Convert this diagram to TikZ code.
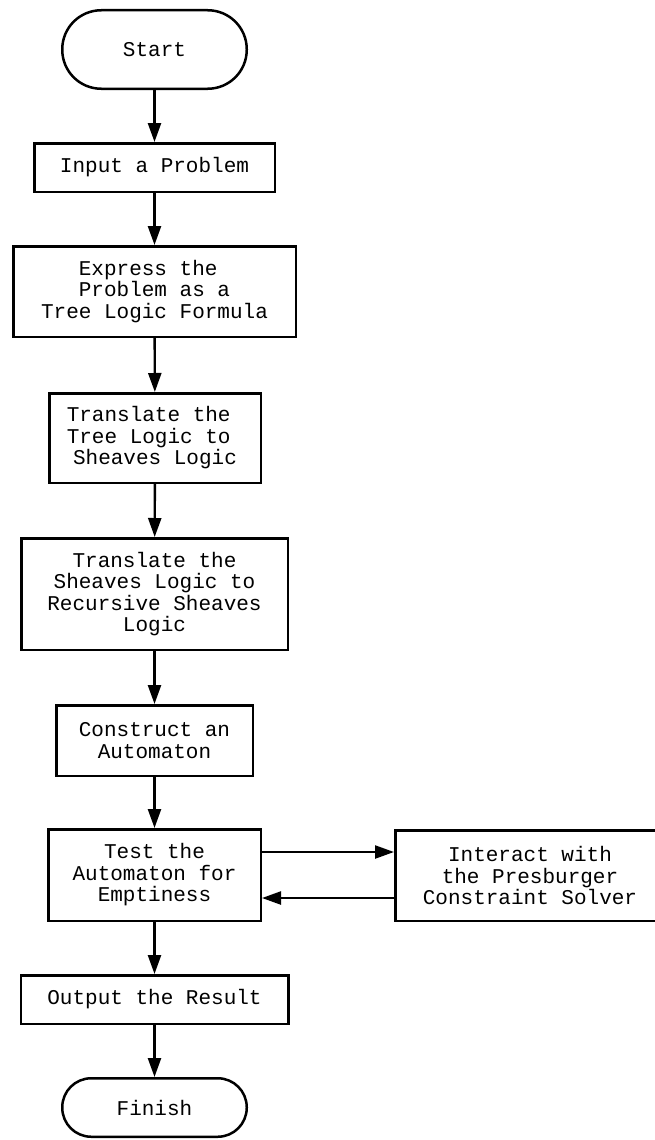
\documentclass[tikz,border=0pt]{standalone}
\usepackage{fontspec}
\setmonofont{Liberation Mono}
\usetikzlibrary{arrows.meta}
\begin{document}
\begin{tikzpicture}[x=1pt,y=-1pt,
  box/.style={draw, line width=2.5pt, align=center, inner sep=0pt,
    font=\ttfamily\fontsize{21}{21.5}\selectfont},
  term/.style={box, rounded corners=#1},
  arr/.style={line width=2.4pt, -{Triangle[length=19pt,width=13pt]}}]
\useasboundingbox (0,0) rectangle (655,1140);
\node[term=39pt, minimum width=184.5pt, minimum height=78.5pt] (start) at (154.5,49.5) {Start};
\node[box, minimum width=240.5pt, minimum height=48.5pt] (input) at (154.5,167.5) {Input a Problem};
\node[box, minimum width=282.5pt, minimum height=90.5pt] (express) at (154.5,291.5) {Express the\hphantom{x}\\Problem as a\\Tree Logic Formula};
\node[box, minimum width=211.5pt, minimum height=89.5pt] (trans1) at (155,438) {Translate the\hphantom{x}\\Tree Logic to\hphantom{x}\\Sheaves Logic};
\node[box, minimum width=266.5pt, minimum height=111.5pt] (trans2) at (154.5,594) {Translate the\\Sheaves Logic to\\Recursive Sheaves\\Logic};
\node[box, minimum width=196.5pt, minimum height=70.5pt] (construct) at (154.5,740.5) {Construct an\\Automaton};
\node[box, minimum width=212.5pt, minimum height=91.5pt] (test) at (154.5,875) {Test the\\Automaton for\\Emptiness};
\node[box, minimum width=269.5pt, minimum height=90.5pt] (interact) at (530,875.5) {Interact with\\the Presburger\\Constraint Solver};
\node[box, minimum width=267.5pt, minimum height=48.5pt] (output) at (154.5,999.5) {Output the Result};
\node[term=29pt, minimum width=184.5pt, minimum height=58.5pt] (finish) at (154.5,1107.5) {Finish};
\draw[arr] (start) -- (input);
\draw[arr] (input) -- (express);
\draw[arr] (express) -- (trans1);
\draw[arr] (trans1) -- (trans2);
\draw[arr] (trans2) -- (construct);
\draw[arr] (construct) -- (test);
\draw[arr] ([yshift=23pt]test.east) -- ([yshift=23pt]test.east -| interact.west);
\draw[arr] ([yshift=-23pt]test.east -| interact.west) -- ([yshift=-23pt]test.east);
\draw[arr] (test) -- (output);
\draw[arr] (output) -- (finish);
\end{tikzpicture}
\end{document}
